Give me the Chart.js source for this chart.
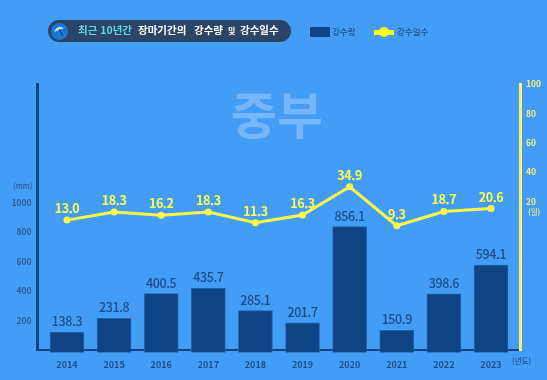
<!DOCTYPE html>
<html lang="ko">
<head>
<meta charset="utf-8">
<script src="https://cdn.jsdelivr.net/npm/chart.js@4"></script>
<style>
html, body { margin: 0; padding: 0; background: #439df5; }
body { width: 547px; height: 380px; position: relative; overflow: hidden; font-family: "Noto Sans CJK KR", sans-serif; }
#wrap { position: absolute; left: 0; top: 0; width: 547px; height: 380px; }
.txt { position: absolute; white-space: nowrap; line-height: 1; }
#pill { position: absolute; left: 48px; top: 20px; width: 243px; height: 22px; border-radius: 11px; background: #2b4568; }
#icon { position: absolute; left: 51px; top: 23px; width: 17px; height: 17px; }
</style>
</head>
<body>
<div id="wrap"><canvas id="c" width="547" height="380"></canvas></div>
<div id="pill"></div>
<svg id="icon" viewBox="0 0 17 17">
  <circle cx="8.5" cy="8.5" r="8.5" fill="#1a78d2"/>
  <path d="M3 9 Q6 2 13 5 Z" fill="#cfe6f7"/>
  <path d="M8 6 L12 13" stroke="#12365f" stroke-width="1" fill="none"/>
</svg>
<div class="txt" style="left:78px;top:25px;font-size:10.5px;font-weight:700;color:#5fd9e5">최근 10년간</div>
<div class="txt" style="left:138px;top:25px;font-size:10.5px;font-weight:700;color:#fff">장마기간의</div>
<div class="txt" style="left:194px;top:25px;font-size:10.5px;font-weight:700;color:#fff">강수량</div>
<div class="txt" style="left:228px;top:27px;font-size:8px;font-weight:700;color:#fff">및</div>
<div class="txt" style="left:240px;top:25px;font-size:10.5px;font-weight:700;color:#fff">강수일수</div>
<div style="position:absolute;left:310px;top:27px;width:20px;height:10px;background:#0e4484"></div>
<div class="txt" style="left:332px;top:27px;font-size:8.5px;font-weight:500;color:#1f4f8c">강수량</div>
<div style="position:absolute;left:374px;top:30px;width:20px;height:5px;background:#ffff1e"></div>
<div style="position:absolute;left:379px;top:27px;width:10px;height:10px;border-radius:5px;background:#ffff1e"></div>
<div class="txt" style="left:397px;top:27px;font-size:8.5px;font-weight:500;color:#1f4f8c">강수일수</div>
<div class="txt" style="left:231px;top:87px;font-size:50px;font-weight:700;color:#76b6f9">중부</div>
<div class="txt" style="left:13px;top:182px;font-size:7.5px;font-weight:500;color:#2b5c96">(mm)</div>
<div class="txt" style="left:528px;top:208px;font-size:7.5px;font-weight:500;color:#f4ee7a">(일)</div>
<div class="txt" style="left:512px;top:357px;font-size:7.5px;font-weight:500;color:#1f4f8c">(년도)</div>
<script>
var years = [2014, 2015, 2016, 2017, 2018, 2019, 2020, 2021, 2022, 2023];
var rainfall = [138.3, 231.8, 400.5, 435.7, 285.1, 201.7, 856.1, 150.9, 398.6, 594.1];
var rainDays = [13.0, 18.3, 16.2, 18.3, 11.3, 16.3, 34.9, 9.3, 18.7, 20.6];
var rainTicks = [200, 400, 600, 800, 1000];
var dayTicks = [20, 40, 60, 80, 100];

var fontName = '"Noto Sans CJK KR", sans-serif';

var toPoints = function (values) {
    return values.map(function (v, i) { return { x: years[i], y: v }; });
};
var fixedTicks = function (list) {
    return function (axis) { axis.ticks = list.map(function (v) { return { value: v }; }); };
};

// 막대, 선 위의 값 표시
var valueLabels = {
    id: 'valueLabels',
    afterDatasetsDraw: function (chart) {
        var ctx = chart.ctx;
        ctx.save();
        ctx.textAlign = 'center';
        ctx.textBaseline = 'alphabetic';
        ctx.letterSpacing = '-0.4px';
        chart.getDatasetMeta(1).data.forEach(function (bar, i) {
            ctx.font = '500 12.5px ' + fontName;
            ctx.fillStyle = '#1a4c8c';
            ctx.fillText(rainfall[i].toFixed(1), bar.x, bar.y - 6);
        });
        chart.getDatasetMeta(0).data.forEach(function (pt, i) {
            ctx.font = '700 12.5px ' + fontName;
            ctx.fillStyle = '#ffff50';
            ctx.fillText(rainDays[i].toFixed(1), pt.x, pt.y - 7);
        });
        ctx.restore();
    }
};

var chart = new Chart(document.getElementById('c').getContext('2d'), {
    data: {
        datasets: [{
            type: 'line',
            label: '강수일수',
            data: toPoints(rainDays),
            yAxisID: 'yDays',
            borderColor: '#fdf84a',
            backgroundColor: '#fdf84a',
            borderWidth: 3,
            pointRadius: 3.5,
            pointBorderWidth: 0,
            tension: 0,
            order: 1
        }, {
            type: 'bar',
            label: '강수량',
            data: toPoints(rainfall),
            yAxisID: 'yBars',
            base: 0,
            clip: false,
            backgroundColor: '#0e4484',
            borderColor: '#2162a8',
            borderWidth: 1,
            barThickness: 34,
            order: 2
        }]
    },
    options: {
        responsive: false,
        animation: false,
        layout: { padding: { top: 84 } },
        plugins: { legend: { display: false }, title: { display: false }, tooltip: { enabled: false } },
        scales: {
            x: {
                type: 'linear',
                offset: false,
                min: 2013.374,
                max: 2023.616,
                afterBuildTicks: fixedTicks(years),
                afterFit: function (axis) { axis.height = 30; },
                grid: { display: false, drawTicks: false },
                border: { color: '#0e4484', width: 2 },
                ticks: {
                    color: '#1a4c8c', font: { size: 9, family: fontName, weight: 700 }, padding: 9, maxRotation: 0,
                    callback: function (v) { return String(v); }
                }
            },
            y: {
                position: 'left',
                min: 0,
                max: 1803,
                afterBuildTicks: fixedTicks(rainTicks),
                afterFit: function (axis) { axis.width = 37.5; },
                grid: { display: false, drawTicks: true, tickLength: 3, tickColor: '#0e4484' },
                border: { color: '#0e4484', width: 3 },
                ticks: {
                    color: '#2b5c96', font: { size: 8.5, family: fontName, weight: 700 }, padding: 3,
                    callback: function (v) { return String(v); }
                }
            },
            yDaysAxis: {
                position: 'right',
                min: -81,
                max: 100,
                afterBuildTicks: fixedTicks(dayTicks),
                afterFit: function (axis) { axis.width = 27; },
                grid: { display: false, drawTicks: true, tickLength: 3, tickColor: '#fdf06a' },
                border: { color: '#fdf06a', width: 3 },
                ticks: {
                    color: '#f4ee7a', font: { size: 8.5, family: fontName, weight: 700 }, padding: 3,
                    callback: function (v) { return String(v); }
                }
            },
            // 원본에서 막대와 선이 눈금보다 약간 아래에 그려져 있어 숨긴 축을 따로 둠
            yBars: { display: false, min: 17, max: 1826 },
            yDays: { display: false, min: -72.3, max: 102.4 }
        }
    },
    plugins: [valueLabels]
});
</script>
</body>
</html>
